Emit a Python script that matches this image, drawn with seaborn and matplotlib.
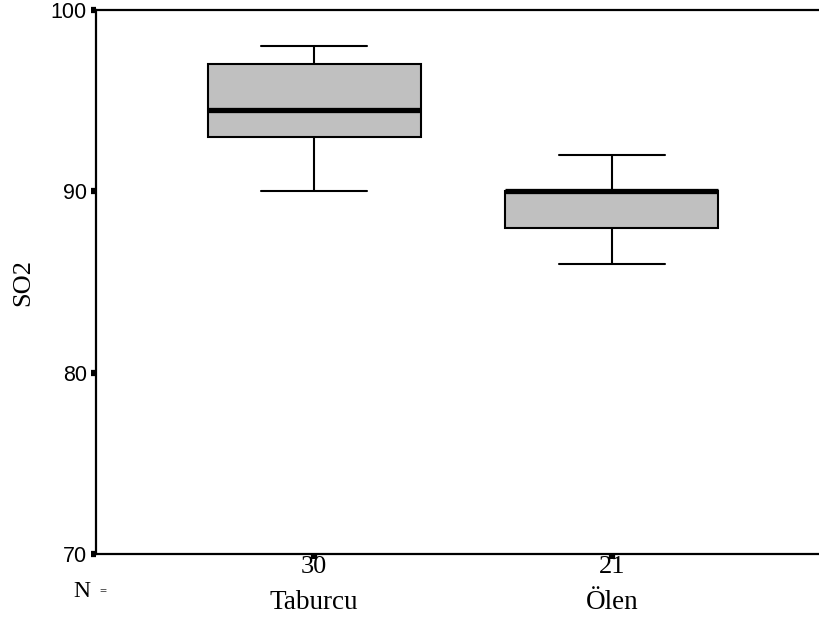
import numpy as np
import pandas as pd
import matplotlib
matplotlib.use("Agg")
import matplotlib.pyplot as plt
import seaborn as sns

# Datos (SO2 por grupo)
grupos = ["Taburcu", "Ölen"]
so2_taburcu = [90, 91, 92, 92, 93, 93, 93, 93, 93, 94, 94, 94, 94, 94, 94,
               95, 95, 96, 96, 96, 97, 97, 97, 97, 97, 97, 98, 98, 98, 98]
so2_olen = [86, 87, 87, 88, 88, 88, 88, 89, 89, 90, 90, 90, 90, 90, 90,
            90, 91, 91, 92, 92, 92]
y_ticks = [70, 80, 90, 100]

df = pd.DataFrame({
    "grupo": ["Taburcu"] * len(so2_taburcu) + ["Ölen"] * len(so2_olen),
    "SO2": so2_taburcu + so2_olen,
})
n_por_grupo = [len(so2_taburcu), len(so2_olen)]

sns.set_style("ticks")
plt.rcParams["text.color"] = "black"
plt.rcParams["axes.labelcolor"] = "black"
plt.rcParams["xtick.color"] = "black"
plt.rcParams["ytick.color"] = "black"

fig = plt.figure(figsize=(8.19, 6.21), dpi=100)
ax = fig.add_axes([96 / 819, 1 - 554 / 621, 1 - 96 / 819, (554 - 10) / 621])

sns.boxplot(data=df, x="grupo", y="SO2", order=grupos, ax=ax,
            color="#c0c0c0", saturation=1, width=0.715, linewidth=1.5,
            linecolor="black", whis=1.5, showfliers=False,
            medianprops=dict(color="black", linewidth=3.8),
            boxprops=dict(edgecolor="black", facecolor="#c0c0c0"))

ax.set_xlim(-0.732, 1.695)
ax.set_ylim(70, 100)
ax.set_yticks(y_ticks)
ax.set_yticklabels([str(t) for t in y_ticks], fontfamily="Liberation Sans",
                   fontsize=15.5, color="black")

ax.set_xticks(range(len(grupos)))
ax.set_xticklabels([str(n) for n in n_por_grupo], fontfamily="Liberation Serif",
                   fontsize=19, color="black")
ax.tick_params(axis="x", direction="out", length=3.5, width=4.5, pad=-2, colors="black")
ax.tick_params(axis="y", direction="out", length=3.5, width=4.5, pad=3, colors="black")

for i, g in enumerate(grupos):
    ax.text(i, -0.101, g, transform=ax.get_xaxis_transform(), ha="center",
            va="baseline", fontfamily="Liberation Serif", fontsize=19.5, color="black")

ax.set_xlabel("")
ax.set_ylabel("SO2", fontfamily="Liberation Serif", fontsize=19, labelpad=12, color="black")

for s in ["left", "bottom", "top"]:
    ax.spines[s].set_visible(True)
    ax.spines[s].set_linewidth(1.6)
    ax.spines[s].set_color("black")
ax.spines["right"].set_visible(False)

fig.text(73 / 819, 1 - 597 / 621, "N", fontfamily="Liberation Serif", fontsize=17,
         va="baseline", ha="left", color="black")
fig.text(99 / 819, 1 - 594 / 621, "=", fontfamily="Liberation Serif", fontsize=9,
         va="baseline", ha="left", color="black")

fig.savefig("out.png", dpi=100)
